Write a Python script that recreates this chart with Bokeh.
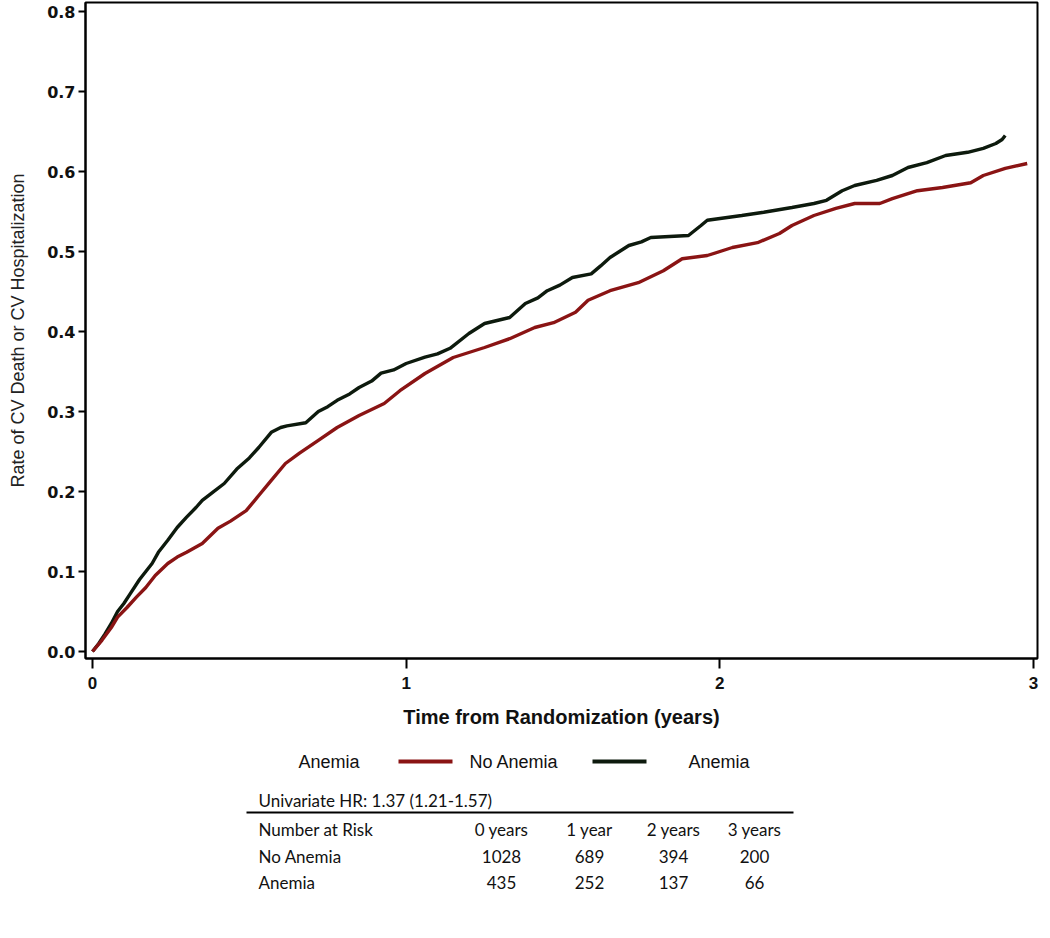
from bokeh.plotting import figure
from bokeh.models import Range1d, FixedTicker, PrintfTickFormatter
from bokeh.layouts import column
from bokeh.core.properties import value
from bokeh.embed import file_html
from bokeh.resources import INLINE

# ---------------- data ----------------
anemia_t = [0.00, 0.02, 0.04, 0.06, 0.08, 0.10, 0.12, 0.15, 0.17, 0.19, 0.21, 0.24, 0.27, 0.30,
            0.33, 0.35, 0.38, 0.42, 0.46, 0.50, 0.53, 0.57, 0.60, 0.62, 0.68, 0.72, 0.75, 0.78,
            0.82, 0.85, 0.89, 0.92, 0.96, 1.00, 1.06, 1.10, 1.14, 1.20, 1.25, 1.33, 1.38, 1.42,
            1.45, 1.49, 1.53, 1.59, 1.62, 1.65, 1.68, 1.71, 1.75, 1.78, 1.90, 1.94, 1.96, 2.07,
            2.14, 2.23, 2.30, 2.34, 2.39, 2.43, 2.50, 2.55, 2.60, 2.66, 2.72, 2.79, 2.84, 2.88,
            2.90, 2.91]
anemia_rate = [0.000, 0.010, 0.022, 0.035, 0.050, 0.060, 0.072, 0.090, 0.100, 0.110, 0.124, 0.139,
               0.155, 0.168, 0.180, 0.189, 0.198, 0.210, 0.228, 0.242, 0.255, 0.274, 0.280, 0.282,
               0.286, 0.300, 0.306, 0.314, 0.322, 0.330, 0.338, 0.348, 0.352, 0.360, 0.368, 0.372,
               0.379, 0.3975, 0.410, 0.4175, 0.435, 0.442, 0.451, 0.458, 0.4675, 0.472, 0.482,
               0.4925, 0.500, 0.5075, 0.512, 0.5175, 0.520, 0.5325, 0.539, 0.545, 0.549, 0.555,
               0.560, 0.564, 0.576, 0.5825, 0.589, 0.595, 0.605, 0.611, 0.620, 0.624, 0.629,
               0.635, 0.640, 0.645]

no_anemia_t = [0.00, 0.03, 0.06, 0.08, 0.11, 0.14, 0.17, 0.20, 0.24, 0.27, 0.30, 0.35, 0.40, 0.44,
               0.49, 0.53, 0.57, 0.615, 0.66, 0.72, 0.78, 0.85, 0.93, 0.98, 1.06, 1.15, 1.25,
               1.33, 1.41, 1.47, 1.54, 1.58, 1.65, 1.74, 1.82, 1.88, 1.96, 2.04, 2.12, 2.19, 2.23,
               2.30, 2.37, 2.43, 2.51, 2.55, 2.63, 2.71, 2.80, 2.84, 2.91, 2.98]
no_anemia_rate = [0.000, 0.014, 0.030, 0.043, 0.055, 0.068, 0.080, 0.095, 0.110, 0.118, 0.124,
                  0.135, 0.154, 0.163, 0.176, 0.195, 0.214, 0.235, 0.248, 0.264, 0.280, 0.295,
                  0.310, 0.326, 0.3475, 0.3675, 0.380, 0.391, 0.405, 0.411, 0.424, 0.439, 0.451,
                  0.461, 0.476, 0.491, 0.495, 0.505, 0.511, 0.5225, 0.5325, 0.545, 0.554, 0.560,
                  0.560, 0.566, 0.576, 0.580, 0.586, 0.595, 0.604, 0.610]

x_ticks = [0, 1, 2, 3]
y_ticks = [0.0, 0.1, 0.2, 0.3, 0.4, 0.5, 0.6, 0.7, 0.8]

legend_title = "Anemia"
series_names = ["No Anemia", "Anemia"]
hr_text = "Univariate HR: 1.37 (1.21-1.57)"
risk_header = "Number at Risk"
risk_cols = ["0 years", "1 year", "2 years", "3 years"]
risk_no_anemia = [1028, 689, 394, 200]
risk_anemia = [435, 252, 137, 66]

RED = "#8a1414"
BLACK = "#0d1a0d"

W = 1042
BL, BR = 85, 5

# ---------------- main plot ----------------
p = figure(width=W, height=748,
           x_range=Range1d(-0.0223, 3.0128), y_range=Range1d(-0.00875, 0.81125),
           output_backend="svg", toolbar_location=None,
           min_border_left=BL, min_border_right=BR, min_border_top=2, min_border_bottom=90)
p.xgrid.visible = False
p.ygrid.visible = False
p.outline_line_color = "black"
p.outline_line_width = 2
p.background_fill_color = "white"
p.border_fill_color = "white"

p.xaxis.ticker = FixedTicker(ticks=x_ticks)
p.yaxis.ticker = FixedTicker(ticks=y_ticks)
p.yaxis.formatter = PrintfTickFormatter(format="%.1f")

for ax in (p.xaxis[0], p.yaxis[0]):
    ax.axis_line_width = 2
    ax.axis_line_color = "black"
    ax.major_tick_line_width = 2
    ax.major_tick_line_color = "black"
    ax.major_tick_in = 0
    ax.minor_tick_line_color = None
    ax.major_label_text_color = "#111111"

p.xaxis.major_tick_out = 10
p.xaxis.major_label_standoff = 8
p.xaxis.major_label_text_font = "Liberation Sans"
p.xaxis.major_label_text_font_size = "17px"
p.xaxis.major_label_text_font_style = "bold"
p.xaxis.axis_label = "Time from Randomization (years)"
p.xaxis.axis_label_text_font = "Liberation Sans"
p.xaxis.axis_label_text_font_size = "20px"
p.xaxis.axis_label_text_font_style = "bold"
p.xaxis.axis_label_text_color = "#111111"
p.xaxis.axis_label_standoff = 14

p.yaxis.major_tick_out = 7
p.yaxis.major_label_standoff = 3
p.yaxis.major_label_text_font = "DejaVu Sans"
p.yaxis.major_label_text_font_size = "16px"
p.yaxis.major_label_text_font_style = "bold"
p.yaxis.axis_label = "Rate of CV Death or CV Hospitalization"
p.yaxis.axis_label_text_font = "Liberation Sans"
p.yaxis.axis_label_text_font_size = "18px"
p.yaxis.axis_label_text_font_style = "normal"
p.yaxis.axis_label_text_color = "#222222"
p.yaxis.axis_label_standoff = 16

p.line(anemia_t, anemia_rate, line_color=BLACK, line_width=3.4)
p.line(no_anemia_t, no_anemia_rate, line_color=RED, line_width=3.4)

# ---------------- legend + risk table (x in page pixels) ----------------
H2 = 180
p2 = figure(width=W, height=H2, x_range=Range1d(BL, W - BR), y_range=Range1d(H2, 0),
            output_backend="svg", toolbar_location=None,
            min_border_left=BL, min_border_right=BR, min_border_top=0, min_border_bottom=0)
p2.axis.visible = False
p2.xgrid.visible = False
p2.ygrid.visible = False
p2.outline_line_color = None
p2.background_fill_color = "white"
p2.border_fill_color = "white"

leg_font = value("Liberation Sans")
leg_y = 13
p2.text(x=[298], y=[leg_y], text=[legend_title], text_font=leg_font, text_font_size="18px",
        text_baseline="middle", text_align="left", text_color="#111111")
p2.segment(x0=[398], y0=[leg_y], x1=[452], y1=[leg_y], line_color=RED, line_width=4)
p2.text(x=[469], y=[leg_y], text=[series_names[0]], text_font=leg_font, text_font_size="18px",
        text_baseline="middle", text_align="left", text_color="#111111")
p2.segment(x0=[592], y0=[leg_y], x1=[646], y1=[leg_y], line_color=BLACK, line_width=4)
p2.text(x=[688], y=[leg_y], text=[series_names[1]], text_font=leg_font, text_font_size="18px",
        text_baseline="middle", text_align="left", text_color="#111111")

tab_font = value("Lato")
col_x = [501, 589, 673, 754]
row_y = [81, 108, 134]
p2.text(x=[258], y=[52], text=[hr_text], text_font=tab_font, text_font_size="17px",
        text_baseline="middle", text_align="left", text_color="#111111")
p2.segment(x0=[246], y0=[64], x1=[793], y1=[64], line_color="black", line_width=2)
p2.text(x=[258] * 3, y=row_y, text=[risk_header] + series_names,
        text_font=tab_font, text_font_size="17px", text_baseline="middle",
        text_align="left", text_color="#111111")
p2.text(x=col_x, y=[row_y[0]] * 4, text=risk_cols, text_font=tab_font, text_font_size="17px",
        text_baseline="middle", text_align="center", text_color="#111111")
p2.text(x=col_x, y=[row_y[1]] * 4, text=[str(v) for v in risk_no_anemia], text_font=tab_font,
        text_font_size="17px", text_baseline="middle", text_align="center", text_color="#111111")
p2.text(x=col_x, y=[row_y[2]] * 4, text=[str(v) for v in risk_anemia], text_font=tab_font,
        text_font_size="17px", text_baseline="middle", text_align="center", text_color="#111111")

layout = column(p, p2, spacing=0)
open("out.html", "w").write(file_html(layout, INLINE))
